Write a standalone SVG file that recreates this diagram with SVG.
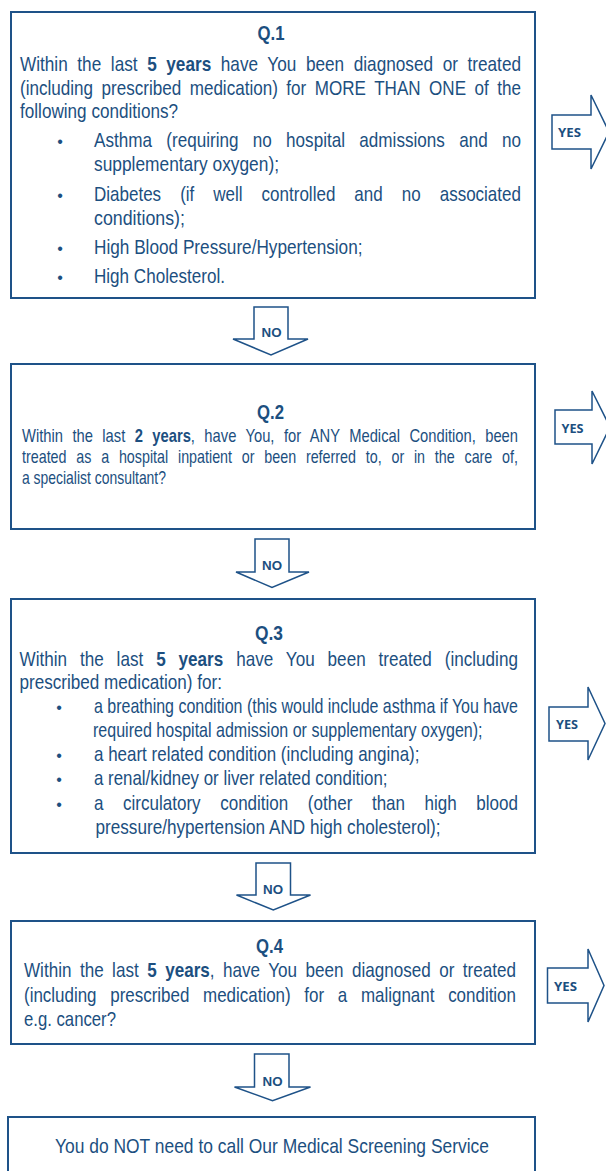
<svg xmlns="http://www.w3.org/2000/svg" width="606" height="1171" viewBox="0 0 606 1171">
<style>
.box{fill:#fff;stroke:#1e5288;stroke-width:2}
.arr{fill:#fff;stroke:#1e5288;stroke-width:1.5;stroke-linejoin:miter}
.t{font-family:"Liberation Sans",Arial,sans-serif;font-size:20px;fill:#1c4f80}
.t2{font-family:"Liberation Sans",Arial,sans-serif;font-size:19px;fill:#1c4f80}
.b{font-weight:bold}
.q{font-family:"Liberation Sans",Arial,sans-serif;font-size:19.5px;font-weight:bold;fill:#1c4f80;text-anchor:middle}
.bl{font-family:"Liberation Sans",Arial,sans-serif;font-size:16px;fill:#1c4f80;text-anchor:middle}
.lbl{font-family:"Open Sans","Liberation Sans",sans-serif;font-size:11.5px;font-weight:bold;fill:#1c4f80;text-anchor:middle}
.no{font-family:"Liberation Sans",Arial,sans-serif;font-size:12px;font-weight:bold;fill:#1c4f80;text-anchor:middle}
</style>
<rect width="606" height="1171" fill="#fff"/>

<g id="connectors">
  <g id="yes1"><polygon class="arr" points="552,115 591,115 591,95 609,132 591,169 591,149 552,149"/><text class="lbl" x="569.5" y="137" textLength="23" lengthAdjust="spacingAndGlyphs">YES</text></g>
  <g id="yes2"><polygon class="arr" points="555,410 592,410 592,391 610,427 592,464 592,444 555,444"/><text class="lbl" x="572.5" y="433" textLength="22" lengthAdjust="spacingAndGlyphs">YES</text></g>
  <g id="yes3"><polygon class="arr" points="549,707 588,707 588,687 605,723.5 588,760 588,741 549,741"/><text class="lbl" x="567" y="729" textLength="22" lengthAdjust="spacingAndGlyphs">YES</text></g>
  <g id="yes4"><polygon class="arr" points="547.5,968 588,968 588,949 604,985.5 588,1022 588,1003 547.5,1003"/><text class="lbl" x="565.5" y="990.5" textLength="23" lengthAdjust="spacingAndGlyphs">YES</text></g>
  <g id="no1"><polygon class="arr" points="254,307 288,307 288,339 308,339 271,355 233,339 254,339"/><text class="no" x="271.5" y="337" textLength="20" lengthAdjust="spacingAndGlyphs">NO</text></g>
  <g id="no2"><polygon class="arr" points="255,539 289,539 289,572 309,572 272,587.5 236,572 255,572"/><text class="no" x="272" y="569.5" textLength="20" lengthAdjust="spacingAndGlyphs">NO</text></g>
  <g id="no3"><polygon class="arr" points="256,863 290.5,863 290.5,895 310.5,895 273.3,910 236.5,895 256,895"/><text class="no" x="273" y="893.5" textLength="20" lengthAdjust="spacingAndGlyphs">NO</text></g>
  <g id="no4"><polygon class="arr" points="254.5,1054 289,1054 289,1087 310.5,1087 272.5,1100.7 234.5,1087 254.5,1087"/><text class="no" x="272.5" y="1086" textLength="20" lengthAdjust="spacingAndGlyphs">NO</text></g>
</g>

<g id="q1">
  <rect class="box" x="11" y="12" width="524" height="286"/>
  <text class="q" x="271" y="40" textLength="27" lengthAdjust="spacingAndGlyphs">Q.1</text>
  <text class="t" transform="translate(20 71) scale(0.856 1)" textLength="585.3" lengthAdjust="spacingAndGlyphs" style="word-spacing:5.6px">Within the last <tspan class="b">5 years</tspan> have You been diagnosed or treated</text>
  <text class="t" transform="translate(20 94.5) scale(0.856 1)" textLength="585.3" lengthAdjust="spacingAndGlyphs" style="word-spacing:4.4px">(including prescribed medication) for MORE THAN ONE of the</text>
  <text class="t" transform="translate(20 118) scale(0.856 1)" textLength="184.6" lengthAdjust="spacingAndGlyphs">following conditions?</text>
  <text class="bl" x="60" y="147">•</text>
  <text class="t" transform="translate(94 147) scale(0.856 1)" textLength="498.8" lengthAdjust="spacingAndGlyphs" style="word-spacing:11.1px">Asthma (requiring no hospital admissions and no</text>
  <text class="t" transform="translate(94 170.5) scale(0.856 1)" textLength="216.1" lengthAdjust="spacingAndGlyphs">supplementary oxygen);</text>
  <text class="bl" x="60" y="200.5">•</text>
  <text class="t" transform="translate(94 200.5) scale(0.856 1)" textLength="498.8" lengthAdjust="spacingAndGlyphs" style="word-spacing:16.8px">Diabetes (if well controlled and no associated</text>
  <text class="t" transform="translate(94 225) scale(0.856 1)" textLength="106.3" lengthAdjust="spacingAndGlyphs">conditions);</text>
  <text class="bl" x="60" y="254">•</text>
  <text class="t" transform="translate(94 254) scale(0.856 1)" textLength="313.7" lengthAdjust="spacingAndGlyphs">High Blood Pressure/Hypertension;</text>
  <text class="bl" x="60" y="282.5">•</text>
  <text class="t" transform="translate(94 282.5) scale(0.856 1)" textLength="153" lengthAdjust="spacingAndGlyphs">High Cholesterol.</text>
</g>

<g id="q2">
  <rect class="box" x="11" y="364" width="524" height="165"/>
  <text class="q" x="270.5" y="418.5" textLength="27" lengthAdjust="spacingAndGlyphs">Q.2</text>
  <text class="t2" transform="translate(22 441.5) scale(0.757 1)" textLength="655.2" lengthAdjust="spacingAndGlyphs" style="word-spacing:6.9px">Within the last <tspan class="b">2 years</tspan>, have You, for ANY Medical Condition, been</text>
  <text class="t2" transform="translate(22 462.5) scale(0.757 1)" textLength="655.2" lengthAdjust="spacingAndGlyphs" style="word-spacing:7.7px">treated as a hospital inpatient or been referred to, or in the care of,</text>
  <text class="t2" transform="translate(22 483.5) scale(0.757 1)" textLength="190.2" lengthAdjust="spacingAndGlyphs">a specialist consultant?</text>
</g>

<g id="q3">
  <rect class="box" x="11" y="599" width="524" height="254"/>
  <text class="q" x="269" y="640" textLength="28" lengthAdjust="spacingAndGlyphs">Q.3</text>
  <text class="t" transform="translate(19.5 666) scale(0.855 1)" textLength="583" lengthAdjust="spacingAndGlyphs" style="word-spacing:9.5px">Within the last <tspan class="b">5 years</tspan> have You been treated (including</text>
  <text class="t" transform="translate(19.5 689) scale(0.855 1)" textLength="236.8" lengthAdjust="spacingAndGlyphs">prescribed medication) for:</text>
  <text class="bl" x="59" y="713">•</text>
  <text class="t" transform="translate(94 713) scale(0.855 1)" textLength="495.9" lengthAdjust="spacingAndGlyphs">a breathing condition (this would include asthma if You have</text>
  <text class="t" transform="translate(93 736.5) scale(0.855 1)" textLength="455.6" lengthAdjust="spacingAndGlyphs">required hospital admission or supplementary oxygen);</text>
  <text class="bl" x="59" y="760.5">•</text>
  <text class="t" transform="translate(94 760.5) scale(0.855 1)" textLength="380.7" lengthAdjust="spacingAndGlyphs">a heart related condition (including angina);</text>
  <text class="bl" x="59" y="785">•</text>
  <text class="t" transform="translate(94 785) scale(0.855 1)" textLength="343.3" lengthAdjust="spacingAndGlyphs">a renal/kidney or liver related condition;</text>
  <text class="bl" x="59" y="810">•</text>
  <text class="t" transform="translate(94 810) scale(0.855 1)" textLength="495.9" lengthAdjust="spacingAndGlyphs" style="word-spacing:17.4px">a circulatory condition (other than high blood</text>
  <text class="t" transform="translate(95.5 834) scale(0.855 1)" textLength="403.5" lengthAdjust="spacingAndGlyphs">pressure/hypertension AND high cholesterol);</text>
</g>

<g id="q4">
  <rect class="box" x="11" y="921" width="524" height="123"/>
  <text class="q" x="269.5" y="952.5" textLength="27" lengthAdjust="spacingAndGlyphs">Q.4</text>
  <text class="t" transform="translate(24 976.5) scale(0.85 1)" textLength="578.8" lengthAdjust="spacingAndGlyphs" style="word-spacing:4.4px">Within the last <tspan class="b">5 years</tspan>, have You been diagnosed or treated</text>
  <text class="t" transform="translate(24 1001.5) scale(0.85 1)" textLength="578.8" lengthAdjust="spacingAndGlyphs" style="word-spacing:10.6px">(including prescribed medication) for a malignant condition</text>
  <text class="t" transform="translate(24 1025.5) scale(0.85 1)" textLength="108.2" lengthAdjust="spacingAndGlyphs">e.g. cancer?</text>
</g>

<g id="result">
  <rect class="box" x="8" y="1117" width="527" height="62"/>
  <text class="t" transform="translate(55 1152.5) scale(0.868 1)" textLength="500" lengthAdjust="spacingAndGlyphs">You do NOT need to call Our Medical Screening Service</text>
</g>
</svg>
